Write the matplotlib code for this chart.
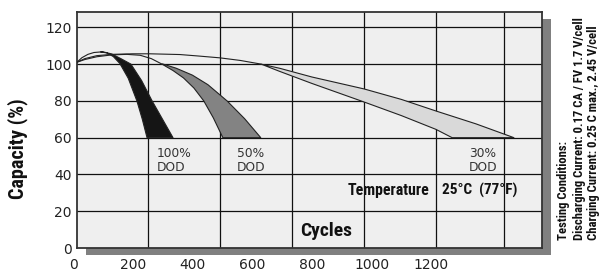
import matplotlib
matplotlib.use("Agg")
import matplotlib.pyplot as plt
from matplotlib import font_manager as fm
from matplotlib.patches import Rectangle, Polygon
import matplotlib.transforms as mtransforms

# ---------------- data ----------------
x_tick_values = [0, 200, 400, 600, 800, 1000, 1200]
y_tick_values = [0, 20, 40, 60, 80, 100, 120]
x_grid = [251, 492, 734, 975, 1216, 1444]

# thin lines from the start point
lineA_c = [13, 30, 50, 70, 92]
lineA_v = [101, 103.5, 105.3, 106.3, 106.6]
lineC_c = [13, 40, 80, 130, 180, 225, 262, 298]
lineC_v = [101, 102.5, 104, 105, 105.3, 104.8, 103, 100]
lineB_c = [13, 40, 80, 130, 200, 258, 358, 420, 492, 560, 630]
lineB_v = [101, 103, 104.6, 105.3, 105.6, 105.6, 105.2, 104.4, 103.4, 102.0, 100]

# 100% DOD band
d100_left_c = [92, 113, 135, 157, 185, 214, 232, 248]
d100_left_v = [106.6, 106.1, 104.1, 100.3, 92.3, 80, 70.1, 60]
d100_right_c = [100, 130, 160, 194, 230, 265, 300, 335]
d100_right_v = [106.7, 105.5, 103, 100, 91, 80, 70, 60]

# 50% DOD band
d50_left_c = [298, 335, 370, 405, 438, 470, 502]
d50_left_v = [100, 96.5, 92.5, 87, 80, 70.8, 60]
d50_right_c = [302, 345, 400, 452, 516, 575, 629]
d50_right_v = [100, 97.8, 94, 88.8, 80, 70.3, 60]

# 30% DOD band
d30_upper_c = [630, 693, 800, 975, 1100, 1216, 1350, 1477]
d30_upper_v = [100, 97.7, 93, 86.5, 80.8, 74.5, 67.5, 60]
d30_lower_c = [630, 693, 800, 975, 1100, 1216, 1270]
d30_lower_v = [100, 96, 89.5, 79.4, 72, 64.5, 60]

# ---------------- fonts ----------------
ttf = fm.fontManager.ttflist
names = {f.name for f in ttf}
if 'Liberation Sans Narrow' in names:
    narrow = dict(family='Liberation Sans Narrow', weight='bold')
    nscale = 1.0
elif 'Roboto Condensed' in names:
    narrow = dict(family='Roboto Condensed', weight='bold')
    nscale = 1.0
else:
    narrow = dict(family='Roboto', weight='bold')
    nscale = 0.85
regular = dict(family='DejaVu Sans')

W, H = 609, 271
fig = plt.figure(figsize=(W / 100, H / 100), dpi=100)
fig.patch.set_facecolor('white')

ax_l, ax_r, ax_t, ax_b = 77, 542, 12, 248
ax = fig.add_axes([ax_l / W, 1 - ax_b / H, (ax_r - ax_l) / W, (ax_b - ax_t) / H])
ax.set_facecolor('#efefef')

# shadow
fig.add_artist(Rectangle((86 / W, (H - 255) / H), (551 - 86) / W, (255 - 19) / H,
                         transform=fig.transFigure, facecolor='#808080',
                         edgecolor='none', zorder=-1))

# scale: 0 cycles at px 73, 59.7 px per 200 cycles
cpp = 200 / 59.7
ax.set_xlim((ax_l - 73) * cpp, (ax_r - 73) * cpp)
ax.set_ylim(0, (ax_b - ax_t) / 1.839)

for s in ax.spines.values():
    s.set_color('#333333')
    s.set_linewidth(1.3)

ax.set_yticks(y_tick_values)
ax.set_yticklabels([str(v) for v in y_tick_values], fontsize=10, color='#222222', **regular)
ax.tick_params(axis='y', length=0, pad=4)
ax.set_xticks([])
for gv in y_tick_values[1:]:
    ax.axhline(gv, color='#111111', lw=0.9, zorder=1)
for gx in x_grid:
    ax.axvline(gx, color='#111111', lw=0.9, zorder=1)

trans = mtransforms.blended_transform_factory(ax.transData, ax.transAxes)
for xv in x_tick_values:
    ax.text(xv, -0.042, str(xv), transform=trans, ha='center', va='top',
            fontsize=10, color='#222222', clip_on=False, **regular)

edge = '#222222'

def band(left_c, left_v, right_c, right_v, color):
    pts = list(zip(left_c, left_v)) + list(zip(right_c[::-1], right_v[::-1]))
    ax.add_patch(Polygon(pts, closed=True, facecolor=color, edgecolor=edge,
                         lw=0.8, zorder=3, joinstyle='round'))

band(d100_left_c, d100_left_v, d100_right_c, d100_right_v, '#151515')
band(d50_left_c, d50_left_v, d50_right_c, d50_right_v, '#838383')
band(d30_lower_c, d30_lower_v, d30_upper_c, d30_upper_v, '#d9d9d9')

for c, v in [(lineA_c, lineA_v), (lineB_c, lineB_v), (lineC_c, lineC_v)]:
    ax.plot(c, v, color=edge, lw=0.8, zorder=4, solid_capstyle='round')

lab = dict(fontsize=8.8, color='#333333', ha='left', va='top', linespacing=1.15, **regular)
ax.text(280, 55, '100%\nDOD', **lab)
ax.text(548, 55, '50%\nDOD', **lab)
ax.text(1326, 55, '30%\nDOD', **lab)

ax.text(921, 31, 'Temperature', fontsize=11.4 * nscale, color='#111111', va='center', ha='left', **narrow)
ax.text(1236, 31, '25°C  (77°F)', fontsize=11.0 * nscale, color='#111111', va='center', ha='left', **narrow)
ax.text(762, 9.5, 'Cycles', fontsize=14 * nscale, color='#111111', va='center', ha='left', **narrow)

fig.text(18 / W, 1 - 149 / H, 'Capacity (%)', rotation=90, ha='center', va='center',
         fontsize=14.5 * nscale, color='#111111', **narrow)

tc = dict(rotation=90, ha='center', va='bottom', fontsize=9.1 * nscale, color='#111111', **narrow)
fig.text(564 / W, 1 - 240 / H, 'Testing Conditions:', **tc)
fig.text(579 / W, 1 - 240 / H, 'Discharging Current: 0.17 CA / FV 1.7 V/cell', **tc)
fig.text(593 / W, 1 - 240 / H, 'Charging Current: 0.25 C max., 2.45 V/cell', **tc)

fig.savefig('out.png', dpi=100)
